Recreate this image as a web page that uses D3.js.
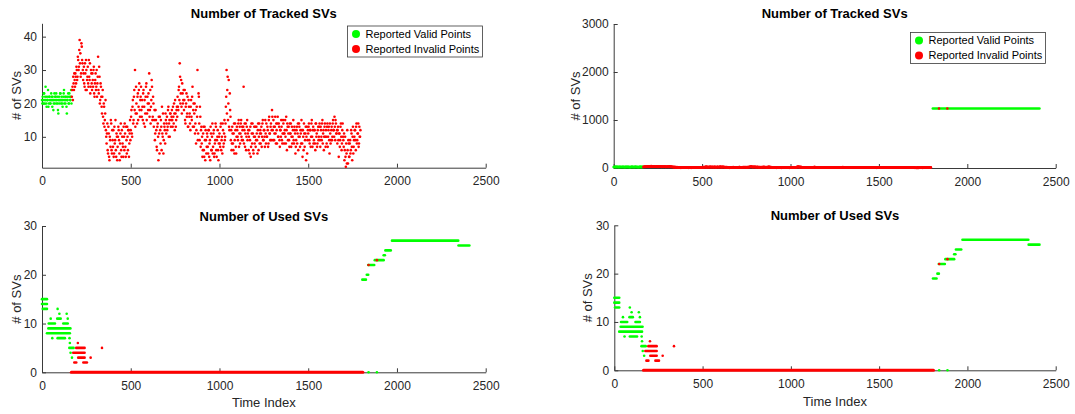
<!DOCTYPE html>
<html>
<head>
<meta charset="utf-8">
<script src="https://cdn.jsdelivr.net/npm/d3@7"></script>
<style>
  body { margin: 0; background: #fff; }
</style>
</head>
<body>
<svg id="fig" width="1075" height="414"></svg>
<script>
// tracked SVs, two interleaved readings, one value every 4 time indices each
var trackStep = 4;
var trackValidStart = 0;
var trackValid = [21,22,20,23,21,25,20,22,21,19,22,21,20,23,21,22,18,21,20,22,23,21,20,17,22,21,23,20,21,19,22,24,21,20,22,17,21,23,20,22,21,24];
var trackValidB = [20,21,23,20,22,21,19,21,24,20,22,20,21,22,19,21,20,23,22,21,20,22,18,21,20,23,21,22,20,21,23,20,22,21,19,21,22,20,23,21,22,20];
var trackInvalidStart = 168;
var trackInvalid = [
  22,25,28,24,27,29,26,30, 28,33,31,39,35,29,37,32, 27,31,25,29,33,24,28,26,
  33,27,23,30,26,29,25,31,22, 27,24,30,26,34,23,28,21, 25,19,22,16,20,13,17,12,
  8,14,5,11,3,9,15,6,12, 7,4,13,9,6,11,3,10, 12,5,8,14,4,10,7,13,6,
  11,4,9,13,6,12,8,15, 12,18,10,21,15,24,30,17, 20,14,23,19,26,16,22,18,
  21,15,24,19,13,22,26,17,20, 23,29,18,14,21,25,16,20, 15,9,18,12,6,14,3,11,
  16,8,13,19,10,5,14,12,17, 11,16,13,19,14,10,17,15, 18,13,16,20,12,17,15,19,
  22,18,25,32,20,27,17,23,21, 18,24,14,20,16,22,13,19, 17,12,21,15,25,18,13,20,
  14,8,19,30,11,22,9,16,12, 8,4,11,6,13,3,9,7, 10,5,12,8,3,11,6,14,
  7,12,5,9,13,4,10,6,8, 11,7,14,9,5,12,8,15, 10,19,30,24,15,27,12,18,
  9,6,13,8,11,5,14,7,10, 12,9,15,11,8,14,10,13, 9,25,12,7,14,10,15,11,
  6,12,9,4,14,8,11,5,13, 10,7,13,9,12,6,14,11, 8,13,10,15,9,12,7,11,
  14,10,12,8,16,11,13,9,18, 12,15,9,13,11,14,8,16, 10,13,7,12,15,9,11,14,
  8,12,10,16,6,13,11,9,14, 11,7,13,10,15,8,12,5, 9,13,11,6,14,10,12,8,
  12,4,10,14,7,11,3,13,9, 11,14,8,12,10,15,7,13, 9,12,6,14,11,8,13,10,
  14,7,12,9,15,11,6,13,10, 12,8,14,10,13,5,11,9, 13,10,15,12,16,9,14,11,
  8,13,4,11,9,14,6,12,10, 7,3,10,1,5,12,2,8, 4,9,6,11,3,13,7,10,
  12,6,14,9,11,7,13,10
];
var trackInvalidB = [
  24,21,26,29,25,28,31,27, 34,30,36,32,28,38,33,30, 29,26,32,24,30,27,31,25,
  28,32,25,29,24,27,30,23,26, 29,25,22,28,24,31,20,26, 22,17,24,14,19,15,21,10,
  11,6,13,4,10,7,14,5,9, 12,5,8,15,4,10,7,13, 9,3,11,6,12,8,4,10,14,
  7,13,5,10,12,4,11,9, 16,11,19,14,22,18,13,25, 17,22,15,24,18,21,25,16,
  19,23,14,21,17,25,15,22,18, 20,16,24,19,27,15,22,13, 18,11,15,7,13,10,16,5,
  12,15,6,11,17,9,13,8,15, 14,12,18,10,15,17,13,16, 15,19,14,17,21,13,18,16,
  19,24,21,28,23,19,26,20,24, 21,15,19,23,17,13,21,16, 14,19,16,22,13,20,17,11,
  18,12,16,9,23,14,19,7,13, 10,6,13,4,9,12,5,11, 7,12,4,9,13,6,10,5,
  11,4,8,14,6,9,12,3,10, 8,13,6,10,14,7,11,9, 14,22,17,28,20,13,23,16,
  12,8,11,6,14,9,12,5,13, 10,14,7,13,11,15,9,12, 13,8,14,11,6,13,9,12,
  10,5,13,7,11,14,6,10,8, 13,9,11,5,14,10,8,12, 11,7,14,9,12,10,15,8,
  10,13,7,15,11,9,14,12,16, 9,13,11,16,8,12,14,10, 14,9,12,10,13,8,15,11,
  11,15,8,12,14,9,13,7,11, 14,10,8,12,9,13,11,7, 12,8,14,10,13,7,11,15,
  8,12,6,11,9,13,10,5,12, 13,9,12,7,14,10,12,8, 12,8,14,10,7,12,9,13,
  9,13,10,14,8,12,10,14,7, 10,13,7,12,9,14,8,12, 9,14,12,10,13,15,11,12,
  12,9,11,7,13,10,8,14,9, 11,6,4,8,2,6,9,4, 8,5,12,7,10,5,9,12,
  9,13,8,11,14,8,10,12
];
// tail of the tracked series (only inside the 0-3000 axes): [from, to, value]
var trackTailValid = [[1805, 2408, 1240]];
var trackTailInvalid = [[1840, 1240], [1887, 1240]];

// used SVs: runs [from, to, value] and single points [index, value]
var usedValidRuns = [
  [0, 28, 15], [0, 28, 14], [4, 28, 13], [38, 73, 10], [120, 145, 10],
  [86, 105, 11], [36, 160, 9], [28, 157, 8], [88, 129, 7], [154, 178, 5],
  [1805, 1825, 19], [1830, 1838, 20], [1838, 1872, 22], [1875, 1925, 23],
  [1925, 1932, 24], [1935, 1965, 25], [1972, 2345, 27], [2347, 2408, 26]
];
var usedValidPts = [[88, 13], [98, 12], [139, 12], [49, 11], [145, 11], [58, 7], [155, 7], [157, 6], [161, 4], [169, 3], [1840, 0], [1887, 0]];
var usedInvalidRuns = [[193, 240, 5], [176, 240, 4], [204, 240, 3], [182, 193, 2], [233, 253, 2]];
var usedInvalidZero = [[165, 1808, 0]];
var usedInvalidPts = [[202, 6], [338, 5], [274, 3], [1840, 22], [1887, 23]];

var xTicks = [0, 500, 1000, 1500, 2000, 2500];
var yTicksTrackL = [10, 20, 30, 40];
var yTicksTrackR = [0, 1000, 2000, 3000];
var yTicksUsed = [0, 10, 20, 30];
var legendLabels = ["Reported Valid Points", "Reported Invalid Points"];
var green = "#00ff00", red = "#ff0000";

var font = '"Liberation Sans", Arial, Helvetica, sans-serif';
var svg = d3.select("#fig");

function toPts(arr, start) {
  return arr.map(function(v, i) { return [start + i * trackStep, v]; });
}

function panel(p) {
  var x = d3.scaleLinear().domain([0, 2500]).range([p.left, p.right]);
  var y = d3.scaleLinear().domain(p.yDomain).range([p.bottom, p.top]);
  var g = svg.append("g");

  var ax = g.append("g").attr("transform", "translate(0," + p.bottom + ")")
    .call(d3.axisBottom(x).tickValues(xTicks).tickFormat(d3.format("d"))
      .tickSizeInner(-4).tickSizeOuter(0).tickPadding(9));
  var ay = g.append("g").attr("transform", "translate(" + p.left + ",0)")
    .call(d3.axisLeft(y).tickValues(p.yTicks).tickFormat(d3.format("d"))
      .tickSizeInner(-4).tickSizeOuter(0).tickPadding(5));
  [ax, ay].forEach(function(a) {
    a.select(".domain").attr("stroke", "#3a3a3a");
    a.selectAll(".tick line").attr("stroke", "#3a3a3a");
    a.selectAll("text").attr("fill", "#262626")
      .style("font-size", "12px").style("font-family", font);
  });

  g.append("text").attr("x", (p.left + p.right) / 2).attr("y", p.titleY)
    .attr("text-anchor", "middle").style("font-family", font)
    .style("font-size", "13px").style("font-weight", "bold")
    .attr("fill", "#000").text(p.title);

  g.append("text").attr("transform", "translate(" + p.yLabelX + "," + ((p.top + p.bottom) / 2) + ") rotate(-90)")
    .attr("text-anchor", "middle").attr("dy", "0.35em").style("font-family", font)
    .style("font-size", "13px").attr("fill", "#262626").text("# of SVs");

  if (p.xLabel) {
    g.append("text").attr("x", (p.left + p.right) / 2).attr("y", p.xLabelY)
      .attr("text-anchor", "middle").style("font-family", font)
      .style("font-size", "13px").attr("fill", "#262626").text(p.xLabel);
  }

  function runs(arr, color, w) {
    g.append("g").selectAll("line").data(arr).join("line")
      .attr("x1", function(d) { return x(d[0]); })
      .attr("x2", function(d) { return x(d[1]); })
      .attr("y1", function(d) { return y(d[2]); })
      .attr("y2", function(d) { return y(d[2]); })
      .attr("stroke", color).attr("stroke-width", w).attr("stroke-linecap", "round");
  }
  function dots(arr, color) {
    g.append("g").selectAll("circle").data(arr).join("circle")
      .attr("cx", function(d) { return x(d[0]); })
      .attr("cy", function(d) { return y(d[1]); })
      .attr("r", 1.3).attr("fill", color);
  }

  (p.validRuns || []).forEach(function(r) { runs(r, green, 2.6); });
  (p.validPts || []).forEach(function(r) { dots(r, green); });
  (p.invalidRuns || []).forEach(function(r) { runs(r[0], red, r[1]); });
  (p.invalidPts || []).forEach(function(r) { dots(r, red); });

  if (p.legend) {
    var L = p.legend;
    var lg = g.append("g");
    lg.append("rect").attr("x", L.x + 0.5).attr("y", L.y + 0.5).attr("width", 135).attr("height", 31)
      .attr("fill", "#fff").attr("stroke", "#3a3a3a").attr("stroke-width", 0.8);
    [green, red].forEach(function(c, i) {
      lg.append("circle").attr("cx", L.x + 9).attr("cy", L.y + 8.5 + i * 15).attr("r", 4).attr("fill", c);
      lg.append("text").attr("x", L.x + 18.5).attr("y", L.y + 8.5 + i * 15).attr("dy", "0.35em")
        .style("font-family", font).style("font-size", "11px").attr("fill", "#000")
        .text(legendLabels[i]);
    });
  }
}

var tv = toPts(trackValid, trackValidStart).concat(toPts(trackValidB, trackValidStart + 2));
var ti = toPts(trackInvalid, trackInvalidStart).concat(toPts(trackInvalidB, trackInvalidStart + 2));

panel({ left: 42, right: 485.7, top: 23.3, bottom: 167.7, yDomain: [0.75, 44], yTicks: yTicksTrackL,
  title: "Number of Tracked SVs", titleY: 17.5, yLabelX: 16,
  validPts: [tv], invalidPts: [ti], legend: { x: 347, y: 25.5 } });

panel({ left: 613.7, right: 1055.7, top: 24, bottom: 168, yDomain: [0, 3000], yTicks: yTicksTrackR,
  title: "Number of Tracked SVs", titleY: 17.5, yLabelX: 575,
  validRuns: [trackTailValid], validPts: [tv], invalidPts: [ti, trackTailInvalid], legend: { x: 910, y: 32 } });

panel({ left: 42, right: 485.7, top: 226, bottom: 372.3, yDomain: [0, 30], yTicks: yTicksUsed,
  title: "Number of Used SVs", titleY: 220.5, yLabelX: 16, xLabel: "Time Index", xLabelY: 407,
  validRuns: [usedValidRuns], validPts: [usedValidPts],
  invalidRuns: [[usedInvalidRuns, 2.6], [usedInvalidZero, 3]], invalidPts: [usedInvalidPts] });

panel({ left: 614.3, right: 1055.7, top: 225.3, bottom: 370.3, yDomain: [0, 30], yTicks: yTicksUsed,
  title: "Number of Used SVs", titleY: 220, yLabelX: 587, xLabel: "Time Index", xLabelY: 405.5,
  validRuns: [usedValidRuns], validPts: [usedValidPts],
  invalidRuns: [[usedInvalidRuns, 2.6], [usedInvalidZero, 3]], invalidPts: [usedInvalidPts] });
</script>
</body>
</html>
